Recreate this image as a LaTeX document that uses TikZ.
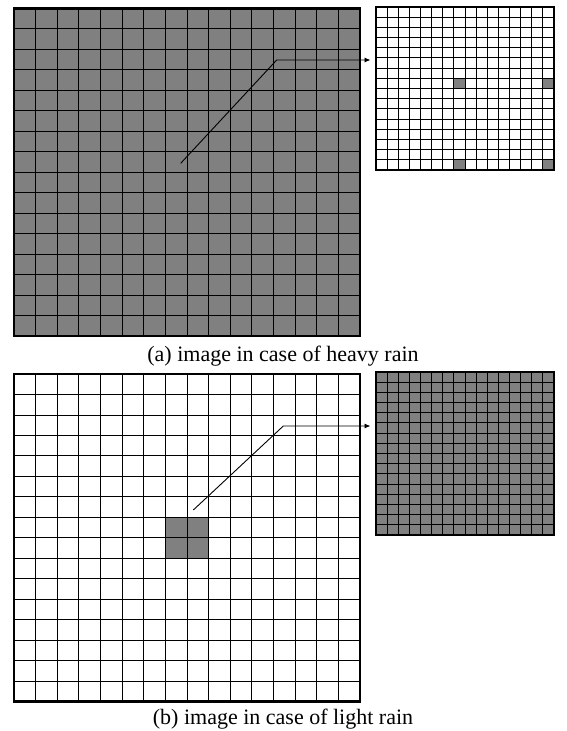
\documentclass[tikz,border=0pt]{standalone}
\usepackage{fontspec}
\setmainfont{Liberation Serif}
\usetikzlibrary{arrows.meta}
\definecolor{cellgray}{RGB}{128,128,128}
\newcommand{\mygrid}[4]{%
  \foreach \k in {1,...,15}{%
    \pgfmathsetmacro{\gx}{#1+(#3-#1)*\k/16}%
    \pgfmathsetmacro{\gy}{#2+(#4-#2)*\k/16}%
    \draw[gridline] (\gx,#2) -- (\gx,#4);
    \draw[gridline] (#1,\gy) -- (#3,\gy);
  }%
}
\begin{document}
\begin{tikzpicture}[x=1pt,y=-1pt,
  gridline/.style={black,line width=0.9pt},
  border/.style={black,line width=2.6pt},
  sborder/.style={black,line width=2.2pt},
  cellfill/.style={fill=cellgray},
  connector/.style={black,line width=0.9pt,-{Latex[length=6pt,width=5pt]}},
  caption/.style={font=\fontsize{22}{26}\selectfont,anchor=base,inner sep=0pt}]
\useasboundingbox[fill=white] (0,0) rectangle (566,731);
% ---------- (a) heavy rain ----------
\fill[cellfill] (14,8.3) rectangle (360,336);
\mygrid{14}{8.3}{360}{336}
\draw[border] (14,8.3) rectangle (360,336);
% small grid (a)
\fill[cellfill] (453.9,78.3) rectangle (465,88.5);
\fill[cellfill] (542.9,78.3) rectangle (554,88.5);
\fill[cellfill] (453.9,159.8) rectangle (465,170);
\fill[cellfill] (542.9,159.8) rectangle (554,170);
\mygrid{376}{7}{554}{170}
\draw[sborder] (376,7) rectangle (554,170);
% connector (a)
\coordinate (a1) at (180.7,163.3);
\coordinate (a2) at (276.7,60);
\coordinate (a3) at (370.5,60);
\draw[connector] (a1) -- (a2) -- (a3);
\node[caption] (capa) at (283,361.5) {(a) image in case of heavy rain};
% ---------- (b) light rain ----------
\fill[cellfill] (165.4,517.5) rectangle (208.6,558.5);
\mygrid{14}{374}{360}{701.7}
\draw[border] (14,374) rectangle (360,701.7);
% small grid (b)
\fill[cellfill] (376,372) rectangle (554,535);
\mygrid{376}{372}{554}{535}
\draw[sborder] (376,372) rectangle (554,535);
% connector (b)
\coordinate (b1) at (193.3,510);
\coordinate (b2) at (283.3,426);
\coordinate (b3) at (370.5,426);
\draw[connector] (b1) -- (b2) -- (b3);
\node[caption] (capb) at (283,724) {(b) image in case of light rain};
\end{tikzpicture}
\end{document}
